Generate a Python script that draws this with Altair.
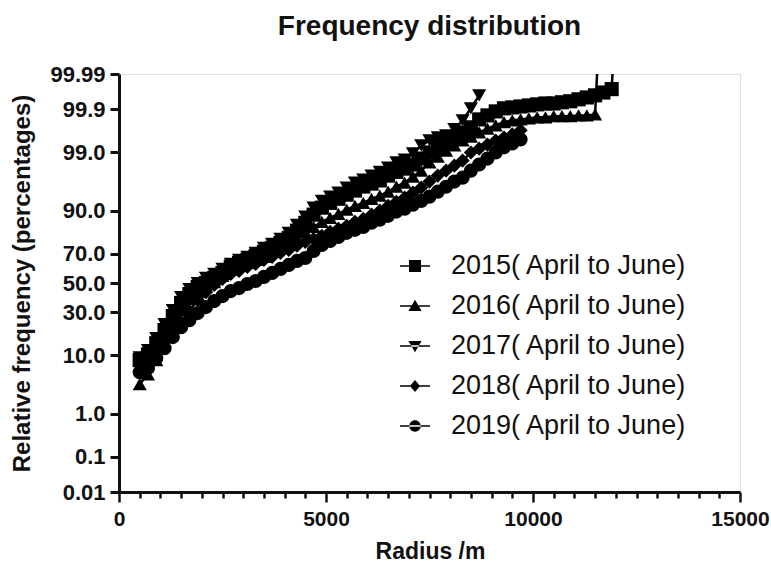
import altair as alt
import pandas as pd
from statistics import NormalDist

# Radius bins (m)
radius_m = [500, 700, 900, 1100, 1300, 1500, 1700, 1900, 2100, 2300,
            2500, 2700, 2900, 3100, 3300, 3500, 3700, 3900, 4100, 4300,
            4500, 4700, 4900, 5100, 5300, 5500, 5700, 5900, 6100, 6300,
            6500, 6700, 6900, 7100, 7300, 7500, 7700, 7900, 8100, 8300,
            8500, 8700, 8900, 9100, 9300, 9500, 9700, 9900, 10100, 10300,
            10500, 10700, 10900, 11100, 11300, 11500, 11700, 11900, 12100]

# Cumulative relative frequency (%) per year, starting at the first bin
pct_2015 = [8.5, 10.2, 14.2, 20.1, 27.8, 36.1, 42.2, 47.2, 50.0, 53.6,
            57.1, 61.3, 64.0, 65.9, 68.5, 71.0, 73.4, 76.2, 78.9, 82.4,
            85.8, 88.8, 91.0, 92.3, 93.3, 94.2, 95.0, 95.7, 96.15, 96.6,
            97.2, 97.6, 97.91, 98.25, 98.66, 98.99, 99.24, 99.41, 99.52, 99.63,
            99.72, 99.82, 99.857, 99.887, 99.906, 99.911, 99.916, 99.921, 99.926, 99.93,
            99.93, 99.935, 99.939, 99.946, 99.952, 99.958, 99.965, 99.972, 100]
pct_2016 = [3.6, 5.2, 8.5, 14.2, 22.7, 31.5, 38.7, 43.6, 47.2, 50.7,
            55.0, 59.2, 61.9, 64.0, 65.9, 67.9, 71.0, 73.4, 76.2, 78.9,
            81.9, 84.1, 86.2, 87.7, 89.1, 90.4, 91.5, 92.3, 93.3, 93.99,
            94.79, 95.67, 96.29, 97.08, 97.72, 98.4, 98.78, 99.08, 99.28, 99.44,
            99.54, 99.63, 99.7, 99.75, 99.79, 99.81, 99.82, 99.83, 99.84, 99.84,
            99.85, 99.85, 99.85, 99.857, 99.857, 99.865, 100]
pct_2017 = [9.3, 11.6, 16.3, 23.2, 31.5, 40.1, 45.7, 50.0, 53.6, 56.4,
            59.9, 63.3, 65.9, 67.9, 70.4, 73.4, 75.7, 78.4, 81.4, 85.0,
            88.1, 91.0, 92.8, 93.77, 94.6, 95.51, 96.29, 96.7, 97.2, 97.6,
            98.0, 98.4, 98.6, 98.94, 99.28, 99.44, 99.52, 99.57, 99.69, 99.81,
            99.906, 99.958]
pct_2018 = [7.4, 8.7, 11.2, 14.6, 19.1, 24.3, 30.9, 38.1, 43.6, 48.6,
            52.8, 56.4, 58.5, 61.3, 63.3, 65.9, 67.9, 70.4, 72.2, 74.6,
            76.8, 78.4, 79.9, 81.9, 83.3, 84.6, 86.2, 87.3, 88.8, 90.1,
            91.5, 92.6, 93.55, 94.6, 95.51, 96.44, 97.2, 97.72, 98.16, 98.53,
            98.99, 99.16, 99.31, 99.44, 99.52, 99.59, 99.67]
pct_2019 = [5.6, 6.5, 9.0, 12.3, 16.8, 21.6, 25.4, 29.6, 33.4, 37.4,
            40.8, 44.3, 46.4, 49.3, 51.4, 54.3, 57.1, 59.9, 62.6, 65.3,
            67.2, 71.6, 75.1, 77.3, 79.4, 81.4, 82.8, 84.1, 85.8, 87.0,
            88.4, 89.8, 90.7, 91.8, 92.8, 93.77, 94.79, 95.67, 96.44, 96.96,
            97.72, 98.25, 98.66, 98.99, 99.21, 99.35, 99.47]

series_labels = ["2015( April to June)", "2016( April to June)", "2017( April to June)",
                 "2018( April to June)", "2019( April to June)"]
series_values = [pct_2015, pct_2016, pct_2017, pct_2018, pct_2019]

# Probability-axis ticks (percent)
tick_pct = [0.01, 0.1, 1, 10, 30, 50, 70, 90, 99, 99.9, 99.99]
tick_labels = ["0.01", "0.1", "1.0", "10.0", "30.0", "50.0", "70.0", "90.0", "99.0", "99.9", "99.99"]

rows = []
for label, values in zip(series_labels, series_values):
    for r, p in zip(radius_m, values):
        rows.append({"series": label, "radius": r, "pct": p})
df = pd.DataFrame(rows)

nd = NormalDist()
tick_z = [nd.inv_cdf(p / 100) for p in tick_pct]
z_lo, z_hi = tick_z[0], tick_z[-1]
label_expr = "".join(
    f"abs(datum.value - ({v:.6f})) < 0.0001 ? '{lab}' : " for v, lab in zip(tick_z, tick_labels)
) + "''"

FONT = "Liberation Sans"
INK = "#111111"

point_shapes = ["square", "triangle-up", "triangle-down", "diamond", "circle"]
# Legend glyphs: a thin bar (the connecting line) plus the filled marker
BAR = "M-1,-0.05H1V0.05H-1Z"
legend_shapes = [
    BAR + "M-0.4,-0.4H0.4V0.4H-0.4Z",
    BAR + "M0,-0.42L0.44,0.34L-0.44,0.34Z",
    BAR + "M0,0.42L0.44,-0.34L-0.44,-0.34Z",
    BAR + "M0,-0.4L0.34,0L0,0.4L-0.34,0Z",
    BAR + "M-0.38,0A0.38,0.38 0 1,0 0.38,0A0.38,0.38 0 1,0 -0.38,0Z",
]

x_enc = alt.X(
    "radius:Q",
    title="Radius /m",
    scale=alt.Scale(domain=[0, 15000], nice=False, zero=False),
    axis=alt.Axis(
        values=[v * 500 for v in range(31)],
        labelExpr="datum.value % 5000 === 0 ? format(datum.value, 'd') : ''",
        labelFont=FONT, labelFontSize=21, labelFontWeight="bold", labelColor=INK,
        labelPadding=6, labelFlush=False, labelOverlap=False,
        tickColor=INK, tickWidth=2.5,
        tickSize={"condition": {"test": "datum.value % 5000 === 0", "value": 10}, "value": 6},
        domainColor=INK, domainWidth=3, grid=False,
        titleFont=FONT, titleFontSize=23, titleFontWeight="bold", titleColor=INK,
        titleX=311, titleY=59, titleAlign="center", titleBaseline="middle",
    ),
)
y_enc = alt.Y(
    "z:Q",
    title="Relative frequency (percentages)",
    scale=alt.Scale(domain=[z_lo, z_hi], nice=False, zero=False),
    axis=alt.Axis(
        values=tick_z, labelExpr=label_expr,
        labelFont=FONT, labelFontSize=22, labelFontWeight="bold", labelColor=INK,
        labelPadding=5, labelFlush=False, labelOverlap=False,
        tickColor=INK, tickWidth=3, tickSize=9,
        domainColor=INK, domainWidth=3, grid=False,
        titleFont=FONT, titleFontSize=24, titleFontWeight="bold", titleColor=INK,
        titleX=-97, titleY=209, titleAngle=270, titleAlign="center", titleBaseline="middle",
    ),
)

base = alt.Chart(df).transform_calculate(
    z="datum.pct >= 100 ? 6 : quantileNormal(datum.pct / 100)"
)

lines = base.mark_line(color="black", strokeWidth=2.5, clip=True).encode(
    x=x_enc, y=y_enc, detail="series:N", order="radius:Q"
)

points = base.transform_filter("datum.pct < 100").mark_point(
    filled=True, color="black", size=200, opacity=1, strokeWidth=0, clip=True
).encode(
    x=x_enc, y=y_enc,
    shape=alt.Shape("series:N", scale=alt.Scale(domain=series_labels, range=point_shapes), legend=None),
)

# Invisible layer whose only job is the line-and-symbol legend
legend_layer = base.transform_filter("datum.pct < 100").mark_point(
    filled=True, color="black", opacity=0, strokeWidth=0, clip=True
).encode(
    x=x_enc, y=y_enc,
    shape=alt.Shape(
        "series:N",
        scale=alt.Scale(domain=series_labels, range=legend_shapes),
        legend=alt.Legend(
            title=None, orient="none", legendX=281, legendY=177, padding=0,
            labelFont=FONT, labelFontSize=27, labelColor=INK, labelLimit=0, labelOffset=21,
            symbolSize=900, symbolFillColor="black", symbolStrokeWidth=0,
            symbolOpacity=1, rowPadding=12,
        ),
    ),
)

chart = alt.layer(lines, points, legend_layer).resolve_scale(
    shape="independent"
).properties(
    width=621,
    height=418,
    padding={"left": 119, "top": 74, "right": 31, "bottom": 81},
    autosize=alt.AutoSizeParams(type="none"),
    title=alt.TitleParams(
        "Frequency distribution", font=FONT, fontSize=28, fontWeight="bold",
        color=INK, anchor="middle", baseline="bottom", offset=21, dy=27,
    ),
).configure_view(stroke=None).configure(background="white")

chart.save("out.html", embed_options={"renderer": "svg", "actions": False})
